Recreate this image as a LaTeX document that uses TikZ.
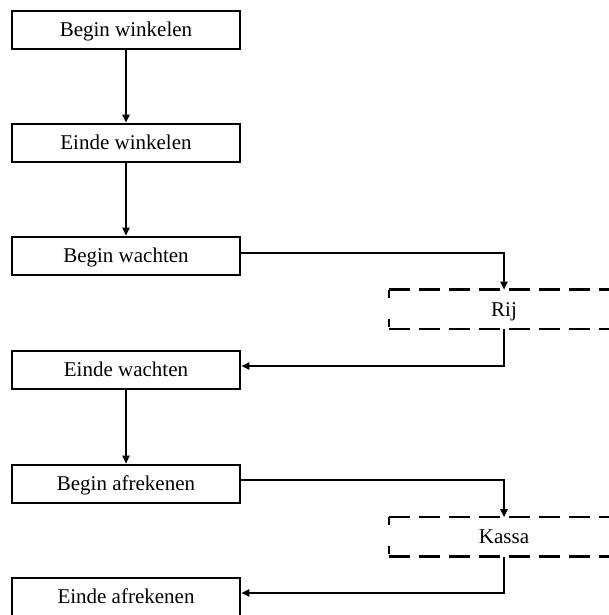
\documentclass[tikz,border=0pt]{standalone}
\usepackage{fontspec}
\setmainfont{Liberation Serif}
\usetikzlibrary{arrows.meta}
\tikzset{
  stepbox/.style={draw, line width=2.5pt, minimum width=228pt, minimum height=38pt,
    inner sep=0pt, text height=13.9pt, text depth=0pt, font=\fontsize{21}{24}\selectfont},
  dashbox/.style={stepbox, draw=none, minimum height=37pt},
  dashline/.style={line width=2.5pt, dash pattern=on 21pt off 9pt},
  conn/.style={line width=2pt, -{Triangle[length=8pt,width=7pt]}},
  connthick/.style={conn, line width=2.6pt}
}
\begin{document}
\begin{tikzpicture}[x=1pt,y=1pt]
\useasboundingbox (0,0) rectangle (609,615);
\clip (0,0) rectangle (609,615);
\node[stepbox] (b1) at (126,585) {Begin winkelen};
\node[stepbox] (b2) at (126,472) {Einde winkelen};
\node[stepbox] (b3) at (126,359) {Begin wachten};
\node[stepbox] (b4) at (126,245) {Einde wachten};
\node[stepbox] (b5) at (126,131) {Begin afrekenen};
\node[stepbox] (b6) at (126,18) {Einde afrekenen};
\node[dashbox] (rij) at (504,305.5) {Rij};
\node[dashbox] (kassa) at (504,78) {Kassa};
\foreach \n in {rij,kassa}{
  \draw[dashline] (\n.north west) -- (\n.north east);
  \draw[dashline] (\n.south west) -- (\n.south east);
  \draw[line width=2.5pt, dash pattern=on 8pt off 21pt] (\n.north west) -- (\n.south west);
}
\draw[conn] (b1) -- (b2);
\draw[conn] (b2) -- (b3);
\draw[conn] (b4) -- (b5);
\draw[connthick] ([yshift=3pt]b3.east) -| (rij.north);
\draw[conn] (rij.south) |- ([yshift=4pt]b4.east);
\draw[conn] ([yshift=4pt]b5.east) -| (kassa.north);
\draw[conn] (kassa.south) |- ([yshift=4pt]b6.east);
\end{tikzpicture}
\end{document}
